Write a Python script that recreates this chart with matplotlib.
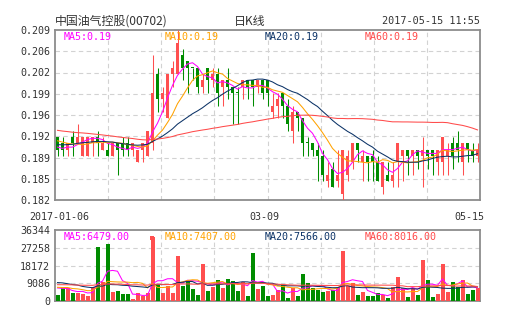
import numpy as np
import pandas as pd
import matplotlib
matplotlib.use("Agg")
import matplotlib.pyplot as plt
from matplotlib.patches import Rectangle

# ---------------- data ----------------
opens = [.192, .191, .190, .192, .191, .189, .189, .191, .192, .190,
         .190, .189, .191, .191, .191, .190, .188, .190, .189, .191,
         .202, .198, .195, .202, .202, .205, .204, .203, .203, .200,
         .203, .201, .202, .200, .201, .200, .199, .200, .201, .201,
         .200, .201, .201, .196, .197, .199, .197, .193, .196, .195,
         .191, .191, .190, .189, .185, .187, .185, .183, .186, .188,
         .191, .188, .189, .189, .188, .184, .186, .185, .188, .189,
         .190, .189, .190, .189, .190, .190, .188, .188, .189, .191,
         .191, .188, .191, .190, .189]
highs = [.192, .192, .191, .193, .194, .192, .192, .192, .193, .192,
         .191, .191, .191, .192, .192, .191, .190, .191, .193, .205,
         .203, .200, .202, .204, .209, .206, .204, .203, .203, .202,
         .203, .203, .203, .201, .203, .200, .200, .201, .201, .201,
         .201, .201, .201, .199, .199, .199, .198, .197, .196, .195,
         .192, .191, .191, .190, .188, .188, .190, .190, .190, .191,
         .191, .190, .189, .190, .189, .188, .188, .188, .191, .190,
         .190, .190, .190, .192, .190, .190, .190, .192, .191, .192,
         .193, .191, .191, .191, .191]
lows = [.189, .189, .189, .189, .191, .189, .189, .189, .189, .190,
        .189, .189, .186, .189, .189, .189, .188, .188, .189, .190,
        .196, .196, .195, .200, .202, .201, .199, .201, .199, .199,
        .199, .200, .197, .197, .198, .194, .194, .198, .198, .197,
        .199, .198, .197, .195, .195, .195, .193, .191, .193, .189,
        .189, .189, .185, .185, .184, .184, .184, .182, .185, .187,
        .188, .185, .185, .185, .185, .183, .185, .184, .184, .185,
        .186, .186, .187, .184, .187, .186, .186, .186, .186, .187,
        .188, .186, .188, .188, .188]
closes = [.190, .190, .191, .191, .192, .192, .192, .192, .191, .191,
          .189, .191, .190, .190, .190, .191, .190, .191, .193, .199,
          .198, .199, .202, .203, .207, .203, .203, .203, .200, .201,
          .201, .202, .199, .201, .200, .199, .199, .201, .200, .200,
          .201, .199, .199, .197, .198, .197, .194, .196, .195, .191,
          .191, .190, .189, .186, .186, .184, .186, .190, .189, .191,
          .190, .189, .188, .188, .185, .188, .185, .186, .191, .190,
          .189, .190, .189, .190, .189, .189, .190, .192, .190, .189,
          .190, .191, .190, .189, .190]
volumes = [2900, 6700, 6700, 3900, 3900, 3500, 2600, 7400, 27600, 9700,
           29000, 4600, 5300, 3400, 3500, 800, 3900, 2600, 3900, 33000,
           8400, 4100, 7500, 4100, 23000, 7500, 11000, 6200, 2900, 19000,
           5300, 7000, 10800, 6700, 11300, 10100, 5300, 9800, 2600, 24500,
           6000, 7500, 2400, 2900, 5500, 8000, 1500, 6700, 2600, 14000,
           9200, 6700, 5500, 4600, 5000, 5500, 6500, 25500, 7500, 9400,
           2900, 4600, 2600, 2600, 4100, 2900, 1500, 7200, 12300, 6500,
           2000, 6500, 2900, 21000, 10600, 2000, 3800, 19000, 4600, 9700,
           7000, 11000, 3400, 5500, 6500]
# sessions before the first visible day (only feed the moving averages)
prior_closes = [.197, .196, .197, .196, .195, .196, .197, .196, .196, .195,
                .196, .197, .196, .195, .196, .197, .196,
                .195, .194, .194, .193, .194, .193, .192, .193, .193, .192,
                .192, .193, .194, .193, .192, .192, .193, .192, .192, .191,
                .192, .193, .192,
                .191, .190, .190, .189, .190, .191, .190, .190, .191, .190,
                .192, .193, .192, .192, .193,
                .191, .190, .191, .190]
prior_volumes = [6500, 9200, 5400, 12000, 7300, 4800, 8800, 6100, 10500, 7700,
                 5200, 9600, 6800, 14500, 7100, 4300, 8200, 6600, 9900, 5800,
                 7400, 11200, 6300, 5100, 8700, 7600, 13000, 6200, 4900, 8100,
                 7000, 9300, 5600, 10200, 6900, 7800, 5300, 8900, 6400, 9400,
                 9800, 15200, 12600, 8900, 17400, 10300, 13100, 9500, 11800, 9700,
                 8200, 6400, 9100, 5800, 7350,
                 7900, 6800, 9400, 6450]

price_ticks = np.linspace(0.182, 0.209, 9)
price_tick_labels = ["0.182", "0.185", "0.189", "0.192", "0.196",
                     "0.199", "0.202", "0.206", "0.209"]
vol_ticks = [0, 9086, 18172, 27258, 36344]
vol_tick_labels = ["0", "9086", "18172", "27258", "36344"]
date_labels = ["2017-01-06", "03-09", "05-15"]
ma_periods = [5, 10, 20, 60]
ma_names = ["MA5", "MA10", "MA20", "MA60"]
price_ma_text = ["0.19", "0.19", "0.19", "0.19"]
vol_ma_text = ["6479.00", "7407.00", "7566.00", "8016.00"]
title_text = "中国油气控股(00702)"
center_text = "日K线"
time_text = "2017-05-15 11:55"

# ---------------- style ----------------
RED = "#ff4f4f"
GREEN = "#008c00"
MA_COLORS = ["#ff00ff", "#ffa200", "#0b3266", "#ff4a4a"]
GRID = "#d2d2d2"
FRAME = "#8c8c8c"
TXT = "#333333"
MONO = "DejaVu Sans Mono"
CJK = ["Noto Sans CJK SC", "DejaVu Sans"]

W, H = 505, 330
def fx(px): return px / W
def fy(py): return 1 - py / H

fig = plt.figure(figsize=(W / 100, H / 100), dpi=100)
fig.patch.set_facecolor("white")
ax = fig.add_axes([fx(55), fy(200), fx(480) - fx(55), fy(30) - fy(200)])
axv = fig.add_axes([fx(55), fy(301), fx(480) - fx(55), fy(230) - fy(301)])

n = len(closes)
x = np.arange(n)
o = np.array(opens); c = np.array(closes)
h = np.array(highs); l = np.array(lows)
v = np.array(volumes, dtype=float)
prev = np.concatenate([[prior_closes[-1]], c[:-1]])
up = (c > o) | ((c == o) & (c > prev))
cols = np.where(up, RED, GREEN)

xmin, xmax = -0.5, n - 0.5
vgrid = np.linspace(xmin, xmax, 9)[1:-1]

for a in (ax, axv):
    a.set_xlim(xmin, xmax)
    for s in a.spines.values():
        s.set_color(FRAME)
        s.set_linewidth(1.3)
    a.set_xticks([])
    a.tick_params(axis="y", length=0, pad=3.5, labelsize=7.2, labelcolor=TXT)
    for xv in vgrid:
        a.axvline(xv, color=GRID, lw=0.8, ls=(0, (4, 3)), zorder=0)

# price panel
ax.set_ylim(price_ticks[0], price_ticks[-1])
ax.set_yticks(price_ticks, price_tick_labels, fontfamily=MONO)
for yv in price_ticks[1:-1]:
    ax.axhline(yv, color=GRID, lw=0.8, ls=(0, (4, 3)), zorder=0)
ax.vlines(x, l, h, colors=cols, lw=0.75, zorder=3)
body = np.maximum(np.abs(c - o), 0.00017)
ax.bar(x, body, bottom=np.minimum(o, c), width=0.74, color=cols, linewidth=0, zorder=4)

allc = pd.Series(prior_closes + closes)
allv = pd.Series(prior_volumes + volumes, dtype=float)
for p, col in zip(ma_periods, MA_COLORS):
    m = allc.rolling(p).mean().values[-n:]
    ax.plot(x, m, color=col, lw=0.75, zorder=5)
    mv = allv.rolling(p).mean().values[-n:]
    axv.plot(x, mv, color=col, lw=0.75, zorder=5)

# volume panel
axv.set_ylim(vol_ticks[0], vol_ticks[-1])
axv.set_yticks(vol_ticks, vol_tick_labels, fontfamily=MONO)
for yv in vol_ticks[1:-1]:
    axv.axhline(yv, color=GRID, lw=0.8, ls=(0, (4, 3)), zorder=0)
axv.bar(x, v, width=0.8, color=cols, linewidth=0, zorder=3)

# texts
fig.text(fx(55), fy(21.5), title_text, fontsize=8.6, family=CJK, color=TXT,
         ha="left", va="center")
fig.text(fx(250), fy(21.5), center_text, fontsize=8.6, family=CJK, color=TXT,
         ha="center", va="center")
fig.text(fx(480), fy(21.5), time_text, fontsize=7.3, family=MONO, color=TXT,
         ha="right", va="center")
leg_x = [64, 165, 265, 365]
for nm, t1, t2, col, lx in zip(ma_names, price_ma_text, vol_ma_text, MA_COLORS, leg_x):
    fig.text(fx(lx), fy(37), f"{nm}:{t1}", fontsize=7.2, family=MONO, color=col,
             ha="left", va="center")
    fig.text(fx(lx), fy(237.5), f"{nm}:{t2}", fontsize=7.2, family=MONO, color=col,
             ha="left", va="center")
fig.add_artist(Rectangle((fx(150), fy(239.5)), 4 / W, 4 / H,
                         transform=fig.transFigure, color=RED, lw=0))
for lab, px in zip(date_labels, [59, 264, 469]):
    fig.text(fx(px), fy(216.5), lab, fontsize=7.2, family=MONO, color=TXT,
             ha="center", va="center")

fig.savefig("out.png", dpi=100, facecolor="white")
